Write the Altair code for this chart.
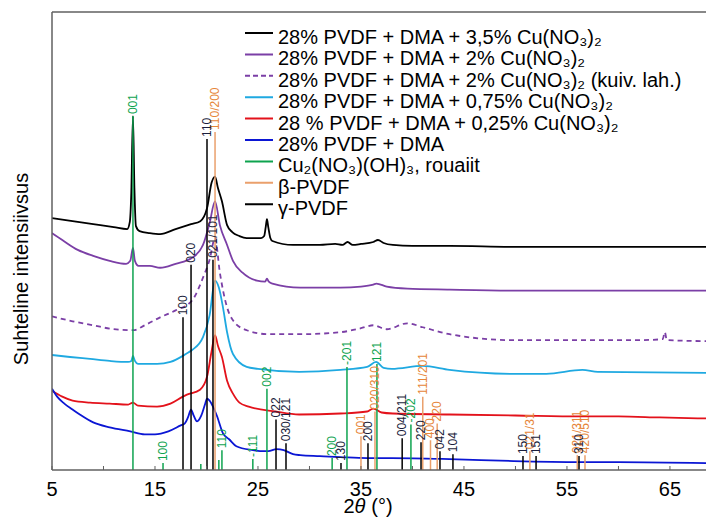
import altair as alt
import pandas as pd

# ---------------- data (2θ in degrees, intensity in arbitrary stacked units) -------------
black_x = [5.0, 7.0, 9.0, 11.0, 12.3, 12.55, 12.7, 12.86, 13.0, 13.15, 13.5, 14.5, 15.5, 17.0, 18.5, 19.4,
           20.05, 20.5, 20.83, 21.1, 21.5, 22.0, 22.5, 23.2, 23.9, 25.3, 25.6, 25.75, 25.87, 26.0, 26.2,
           26.4, 28.4, 31.0, 32.5, 33.2, 33.7, 34.2, 35.0, 36.2, 36.65, 37.2, 38.1, 40.0, 43.6, 50.0,
           60.0, 68.5]
black_y = [254, 251, 248, 245, 243, 250, 280, 357, 285, 246, 241, 239, 238, 243, 248, 251,
           264, 290, 296, 285, 271, 247, 240, 236, 234, 234, 236, 245, 253, 245, 234,
           231, 227, 227, 228, 227, 230, 227, 228, 230, 232, 229, 227, 226, 226, 225,
           225, 225]

purple_x = [5.0, 6.0, 7.5, 9.0, 10.6, 12.2, 12.6, 12.86, 13.05, 13.4, 14.5, 15.5, 17.0, 18.6, 19.66,
            20.3, 20.83, 21.3, 22.0, 22.57, 23.5, 24.9, 25.7, 25.87, 26.05, 26.4, 29.1, 33.0, 35.0,
            36.2, 36.5, 37.5, 39.5, 43.6, 50.0, 60.0, 68.5]
purple_y = [239, 232, 222, 216, 211, 208, 211, 224, 211, 206, 206, 204, 208, 214, 227,
            249, 271, 247, 227, 211, 199, 191, 190, 193, 190, 188, 184, 184, 185,
            187, 188, 185, 183, 182, 181, 181, 181]

dashed_x = [5.0, 7.0, 9.0, 11.0, 12.9, 14.0, 15.5, 17.0, 18.6, 19.66, 20.3, 20.83, 21.3, 22.0, 22.57,
            23.9, 26.0, 29.1, 33.0, 35.0, 36.2, 37.5, 39.5, 41.0, 43.6, 49.8, 56.3, 62.0, 64.3,
            64.5, 64.7, 68.5]
dashed_y = [155, 150, 146, 142, 141, 146, 154, 161, 171, 194, 212, 234, 199, 164, 151,
            141, 137, 137, 139, 143, 146, 142, 148, 144, 137, 131, 131, 131, 132,
            139, 131, 130]

cyan_x = [5.0, 6.75, 8.7, 10.6, 12.4, 12.7, 12.86, 13.05, 13.35, 15.2, 16.5, 18.0, 18.6, 19.66, 20.3,
          20.83, 21.2, 21.6, 22.0, 22.57, 23.9, 25.0, 29.0, 33.0, 35.6, 36.46, 37.2, 38.0, 41.0,
          43.6, 49.8, 53.0, 56.5, 58.0, 68.5]
cyan_y = [116, 114, 112, 110, 109, 110, 115, 110, 107, 107, 109, 117, 121, 134, 156,
          191, 184, 164, 139, 117, 104, 102, 99, 101, 104, 109, 103, 102, 105,
          101, 97, 97, 101, 99, 98]

red_x = [5.0, 6.0, 7.0, 8.7, 10.6, 12.4, 12.86, 13.35, 15.2, 16.5, 17.7, 18.1, 19.37, 20.05, 20.5,
         20.83, 21.12, 21.5, 22.0, 22.57, 23.2, 24.1, 26.7, 29.0, 33.0, 35.6, 36.2, 37.0, 38.1,
         43.6, 50.0, 56.3, 60.0, 64.0, 68.5]
red_y = [80, 74, 70, 68, 67, 66, 68, 65, 64, 67, 74, 76, 81, 94, 120,
         136, 125, 114, 90, 77, 68, 64, 59, 56, 57, 59, 62, 58, 57,
         56, 55, 54, 54, 53, 52]

blue_x = [5.0, 5.5, 6.2, 7.0, 7.7, 9.0, 10.6, 12.6, 14.0, 15.0, 16.3, 17.5, 17.9, 18.2, 18.5, 18.75,
          19.08, 19.5, 19.85, 20.05, 20.3, 20.63, 21.0, 21.6, 22.2, 22.9, 24.5, 25.2, 26.0, 26.8,
          27.5, 28.4, 29.1, 31.0, 33.0, 35.6, 38.0, 43.6, 49.8, 56.3, 60.0, 68.5]
blue_y = [82, 74, 67, 61, 56, 48, 43, 39, 36, 36, 39, 45, 47, 53, 61, 55,
          49, 55, 66, 72, 70, 64, 55, 37, 31, 24, 20, 19, 19, 21,
          20, 16, 15, 14, 13, 12, 12, 11, 9, 8, 8, 7]

# reference stick patterns
rou_x = [12.86, 15.78, 19.45, 21.2, 21.5, 24.5, 25.87, 32.2, 33.64, 36.55, 39.85]
rou_h = [357, 7, 6, 10, 20, 11, 82, 12, 104, 107, 46]
rou_lab = ["001", "100", "", "", "110", "-111", "002", "200", "-201", "121", "-202"]

beta_x = [20.83, 35.0, 36.36, 41.0, 41.75, 42.4, 51.4, 56.0, 56.75]
beta_h = [341, 34, 59, 74, 30, 47, 19, 15, 15]
beta_lab = ["110/200", "001", "020/310", "111/201", "400", "220", "021/31", "021/311", "420/510"]

gam_x = [17.72, 18.5, 20.05, 20.63, 26.75, 27.72, 33.06, 35.68, 39.0, 40.83, 42.67, 43.93, 50.73, 52.0, 56.17]
gam_h = [154, 207, 334, 212, 51, 27, 7, 27, 32, 28, 19, 16, 14, 14, 14]
gam_lab = ["100", "020", "110", "021/101", "022", "030/121", "130", "200", "004/211", "220", "042",
           "104", "150", "151", "310"]

legend_labels = [
    "28% PVDF + DMA + 3,5% Cu(NO₃)₂",
    "28% PVDF + DMA + 2% Cu(NO₃)₂",
    "28% PVDF + DMA + 2% Cu(NO₃)₂ (kuiv. lah.)",
    "28% PVDF + DMA + 0,75% Cu(NO₃)₂",
    "28 % PVDF + DMA + 0,25% Cu(NO₃)₂",
    "28% PVDF + DMA",
    "Cu₂(NO₃)(OH)₃, rouaiit",
    "β-PVDF",
    "γ-PVDF",
]
legend_colors = ["#000000", "#7b3fa6", "#7b3fa6", "#1fa9e1", "#e3121b", "#0b16d4", "#0ea34f", "#eaa06c", "#000000"]
legend_dash = ["solid", "solid", "dash", "solid", "solid", "solid", "solid", "solid", "solid"]

x_tick_values = [5, 10, 15, 20, 25, 30, 35, 40, 45, 50, 55, 60, 65]
x_label_values = [5, 15, 25, 35, 45, 55, 65]
x_title_parts = ["2", "θ", "(°)"]
x_title_styles = ["normal", "italic", "normal"]
y_title = "Suhteline intensiivsus"

# ---------------- chart -------------
W, H = 654, 458
FONT = "Liberation Sans"
FRAME = "#606060"
xs = alt.Scale(domain=[5, 68.5], nice=False, zero=False)
ys = alt.Scale(domain=[0, 462], nice=False, zero=False)


def curve(xv, yv, color, dash=None):
    df = pd.DataFrame({"t": xv, "i": yv})
    kw = dict(color=color, strokeWidth=1.8, interpolate="monotone", clip=True)
    if dash:
        kw["strokeDash"] = dash
    return alt.Chart(df).mark_line(**kw).encode(
        x=alt.X("t:Q", scale=xs, axis=None),
        y=alt.Y("i:Q", scale=ys, axis=None),
    )


def sticks(xv, hv, labs, color, label_color, width=1.5):
    df = pd.DataFrame({"t": xv, "i": hv, "base": [0] * len(xv), "lab": labs})
    rules = alt.Chart(df).mark_rule(color=color, strokeWidth=width).encode(
        x=alt.X("t:Q", scale=xs, axis=None),
        y=alt.Y("i:Q", scale=ys, axis=None),
        y2="base:Q",
    )
    text = alt.Chart(df).mark_text(angle=270, align="left", baseline="middle", dx=2,
                                   fontSize=12, font=FONT, color=label_color).encode(
        x=alt.X("t:Q", scale=xs, axis=None),
        y=alt.Y("i:Q", scale=ys, axis=None),
        text="lab:N",
    )
    return rules, text


layers = [
    curve(black_x, black_y, legend_colors[0]),
    curve(purple_x, purple_y, legend_colors[1]),
    curve(dashed_x, dashed_y, legend_colors[2], dash=[5, 4]),
    curve(cyan_x, cyan_y, legend_colors[3]),
    curve(red_x, red_y, legend_colors[4]),
    curve(blue_x, blue_y, legend_colors[5]),
]
r1, t1 = sticks(rou_x, rou_h, rou_lab, "#0ea34f", "#0ea34f")
r2, t2 = sticks(beta_x, beta_h, beta_lab, "#eaa06c", "#e6863a")
r3, t3 = sticks(gam_x, gam_h, gam_lab, "#000000", "#1b1e3c")
layers += [r3, r1, r2, t1, t2, t3]

# ---- frame and axes drawn as marks ----
one = pd.DataFrame({"a": [0]})
ticks = alt.Chart(pd.DataFrame({"t": x_tick_values})).mark_rule(color=FRAME, strokeWidth=1).encode(
    x=alt.X("t:Q", scale=xs, axis=None), y=alt.value(H - 4), y2=alt.value(H))
top_line = alt.Chart(one).mark_rule(color=FRAME, strokeWidth=1.5).encode(
    x=alt.value(0), x2=alt.value(W), y=alt.value(0))
bottom_line = alt.Chart(one).mark_rule(color=FRAME, strokeWidth=1.5).encode(
    x=alt.value(0), x2=alt.value(W), y=alt.value(H))
left_line = alt.Chart(one).mark_rule(color=FRAME, strokeWidth=1.5).encode(
    x=alt.value(0), y=alt.value(0), y2=alt.value(H))
x_labels = alt.Chart(pd.DataFrame({"t": x_label_values})).mark_text(
    fontSize=20, font=FONT, color="black", baseline="alphabetic", align="center").encode(
    x=alt.X("t:Q", scale=xs, axis=None), y=alt.value(H + 26), text="t:Q")

# x title "2θ (°)" with italic θ, centred at x = 316 px
title_x0 = 316 - 24.5
title_offsets = [0, 11.1, 27.8]
x_title_marks = [
    alt.Chart(pd.DataFrame({"s": [part]})).mark_text(
        fontSize=20, font=FONT, color="black", baseline="alphabetic", align="left", fontStyle=style).encode(
        x=alt.value(title_x0 + off), y=alt.value(H + 43), text="s:N")
    for part, style, off in zip(x_title_parts, x_title_styles, title_offsets)
]
y_title_mark = alt.Chart(pd.DataFrame({"s": [y_title]})).mark_text(
    fontSize=20, font=FONT, color="black", baseline="alphabetic", align="center", angle=270).encode(
    x=alt.value(-24), y=alt.value(257), text="s:N")
layers += [ticks, top_line, bottom_line, left_line, x_labels, y_title_mark] + x_title_marks

# legend: rows placed from the top of the plot, 21.4 px apart (converted to the 462-unit scale)
n = len(legend_labels)
ROW0, ROWSTEP = 21, 21.4
leg_df = pd.DataFrame({"label": legend_labels, "color": legend_colors, "dash": legend_dash,
                       "ly": [462 - (ROW0 + ROWSTEP * r) * 462 / H for r in range(n)]})
leg_rules = alt.Chart(leg_df).mark_rule(strokeWidth=2).encode(
    x=alt.value(193), x2=alt.value(221),
    y=alt.Y("ly:Q", scale=ys, axis=None),
    color=alt.Color("color:N", scale=None),
    strokeDash=alt.StrokeDash("dash:N", scale=alt.Scale(domain=["solid", "dash"], range=[[1, 0], [5, 3]]),
                              legend=None),
)
leg_text = alt.Chart(leg_df).mark_text(align="left", baseline="alphabetic", dy=11, fontSize=20,
                                       font=FONT, color="black").encode(
    x=alt.value(226),
    y=alt.Y("ly:Q", scale=ys, axis=None),
    text="label:N",
)
layers += [leg_rules, leg_text]

chart = alt.layer(*layers).properties(
    width=W, height=H,
    padding={"left": 44, "top": 4, "right": 0, "bottom": 47},
    autosize=alt.AutoSizeParams(type="none"),
    background="white",
).configure_view(stroke=None)

chart.save("out.html", embed_options={"renderer": "svg", "actions": False})
